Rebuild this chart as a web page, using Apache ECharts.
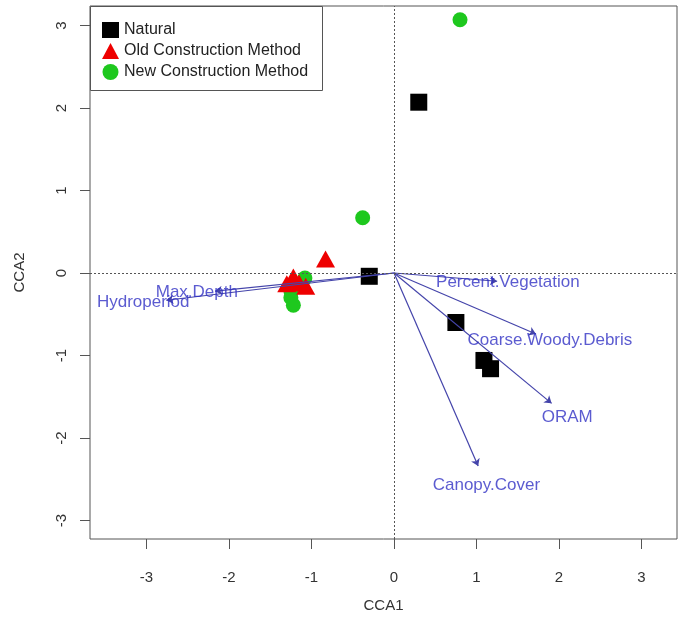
<!DOCTYPE html>
<html>
<head>
<meta charset="utf-8">
<script src="https://cdn.jsdelivr.net/npm/echarts@6/dist/echarts.min.js"></script>
<style>
html,body{margin:0;padding:0;background:#fff;}
#chart{width:678px;height:627px;}
</style>
</head>
<body>
<div id="chart"></div>
<script>
// ---- data ----
var naturalX = [0.30, -0.30, 0.75, 1.09, 1.17];
var naturalY = [2.07, -0.04, -0.60, -1.06, -1.16];

var oldX = [-0.83, -1.30, -1.22, -1.15, -1.07];
var oldY = [0.17, -0.13, -0.05, -0.12, -0.16];

var newX = [0.80, -0.38, -1.08, -1.25, -1.25, -1.22];
var newY = [3.07, 0.67, -0.06, -0.22, -0.30, -0.39];

var envNames = ['Percent.Vegetation', 'Coarse.Woody.Debris', 'ORAM', 'Canopy.Cover', 'Max.Depth', 'Hydroperiod'];
var arrowX = [1.25, 1.72, 1.91, 1.02, -2.17, -2.76];
var arrowY = [-0.10, -0.74, -1.58, -2.34, -0.22, -0.33];
var labelX = [1.38, 1.89, 2.10, 1.12, -2.39, -3.04];
var labelY = [-0.11, -0.81, -1.75, -2.57, -0.24, -0.36];

var tickValues = [-3, -2, -1, 0, 1, 2, 3];
var xTitle = 'CCA1', yTitle = 'CCA2';
var groupNames = ['Natural', 'Old Construction Method', 'New Construction Method'];

// ---- chart ----
var FONT = "'Liberation Sans', Arial, sans-serif";
function pts(xs, ys) { return xs.map(function (x, i) { return [x, ys[i]]; }); }

var arrowData = envNames.map(function (n, i) { return { coords: [[0, 0], [arrowX[i], arrowY[i]]] }; });
var labelData = envNames.map(function (n, i) { return { name: n, value: [labelX[i], labelY[i]] }; });

var chart = echarts.init(document.getElementById('chart'), null, { renderer: 'canvas' });
chart.setOption({
  animation: false,
  backgroundColor: '#fff',
  textStyle: { fontFamily: FONT },
  grid: { left: 90, top: 6, right: 1, bottom: 88, show: true, borderColor: '#555', borderWidth: 1, backgroundColor: 'transparent' },
  xAxis: {
    type: 'value', min: -3.685, max: 3.43,
    axisLine: { show: false, onZero: false },
    axisTick: { show: true, length: 10, customValues: tickValues, lineStyle: { color: '#555' } },
    axisLabel: { customValues: tickValues, margin: 31, fontSize: 15, color: '#333', fontFamily: FONT },
    splitLine: { show: false },
    name: xTitle, nameLocation: 'middle', nameGap: 59,
    nameTextStyle: { fontSize: 15, color: '#333', fontFamily: FONT }
  },
  yAxis: {
    type: 'value', min: -3.224, max: 3.236,
    axisLine: { show: false, onZero: false },
    axisTick: { show: true, length: 10, customValues: tickValues, lineStyle: { color: '#555' } },
    axisLabel: { customValues: tickValues, margin: 21, fontSize: 15, color: '#333', rotate: 90, fontFamily: FONT },
    splitLine: { show: false },
    name: yTitle, nameLocation: 'middle', nameGap: 63, nameRotate: 90,
    nameTextStyle: { fontSize: 15, color: '#333', fontFamily: FONT }
  },
  legend: {
    data: groupNames, orient: 'vertical', left: 97, top: 17,
    itemWidth: 17, itemHeight: 16, itemGap: 5, z: 10,
    textStyle: { fontSize: 16, color: '#222', fontFamily: FONT }
  },
  graphic: [{
    type: 'rect', z: 5, left: 90, top: 6,
    shape: { width: 232, height: 84 },
    style: { fill: '#fff', stroke: '#555', lineWidth: 1 }
  }],
  series: [
    {
      type: 'scatter', name: 'zero', data: [], silent: true,
      markLine: {
        silent: true, symbol: 'none', label: { show: false },
        lineStyle: { type: [2, 2], color: '#555', width: 1 },
        data: [{ xAxis: 0 }, { yAxis: 0 }]
      }
    },
    {
      type: 'scatter', name: groupNames[0], data: pts(naturalX, naturalY),
      symbol: 'rect', symbolSize: 17, itemStyle: { color: '#000', opacity: 1 }, z: 3
    },
    {
      type: 'scatter', name: groupNames[2], data: pts(newX, newY),
      symbol: 'circle', symbolSize: 15, itemStyle: { color: '#1ec81e', opacity: 1 }, z: 3
    },
    {
      type: 'scatter', name: groupNames[1], data: pts(oldX, oldY),
      symbol: 'triangle', symbolSize: [19, 17], itemStyle: { color: '#ee0000', opacity: 1 }, z: 3
    },
    {
      type: 'lines', coordinateSystem: 'cartesian2d', data: arrowData, z: 4,
      symbol: ['none', 'arrow'], symbolSize: [0, 7],
      lineStyle: { color: '#4444aa', width: 1.2, opacity: 1 }, silent: true
    },
    {
      type: 'scatter', name: 'env', data: labelData, symbolSize: 0, z: 6, silent: true,
      label: { show: true, position: 'inside', formatter: '{b}', fontSize: 17, color: '#3232c4', fontFamily: FONT }
    }
  ]
});
</script>
</body>
</html>
